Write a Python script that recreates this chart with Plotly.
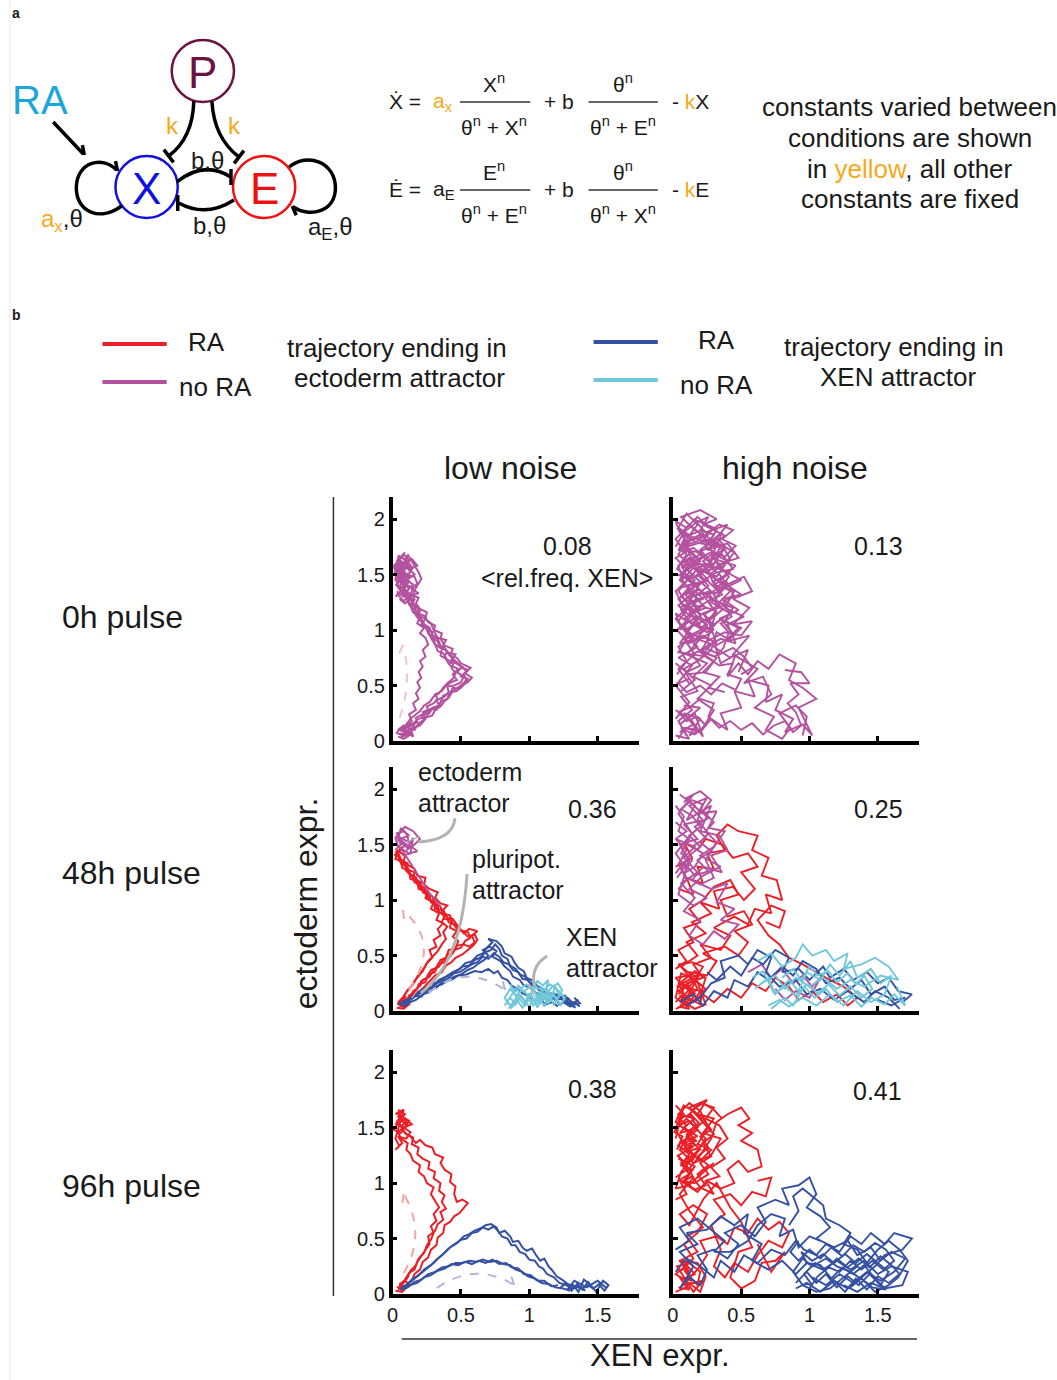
import math
import plotly.graph_objects as go

FONT = "Liberation Sans, Arial, Helvetica, sans-serif"
W, H = 1057, 1380
TXT = "#1a1a1a"
RED = "#ec1f26"; MAG = "#b4529f"; BLUE = "#3551a3"; CYAN = "#70c8da"
ORANGE = "#f6a91b"; RA_CYAN = "#1ba7dc"; MAROON = "#6b1241"; GRAY = "#b3b3b3"

# ---------------- data (x = XEN expr., y = ectoderm expr.) ----------------
X_TICKS = [0, 0.5, 1, 1.5]
X_LABELS = ["0", "0.5", "1", "1.5"]
Y_TICKS = [0, 0.5, 1, 1.5, 2]
Y_LABELS = ["0", "0.5", "1", "1.5", "2"]
ROW_LABELS = ["0h pulse", "48h pulse", "96h pulse"]
COL_LABELS = ["low noise", "high noise"]
REL_FREQ_XEN = [["0.08", "0.13"], ["0.36", "0.25"], ["0.38", "0.41"]]

# 0h pulse, low noise
LOW0_NORA_ECTO = [
    [(.06,.04),(.10,.08),(.09,.12),(.14,.14),(.18,.17),(.17,.21),(.22,.24),(.26,.27),(.25,.31),(.30,.34),(.33,.38),(.31,.42),(.36,.45),(.39,.50),(.43,.53),(.47,.55),(.44,.60),(.48,.65),(.42,.68),(.39,.74),(.35,.77),(.36,.83),(.31,.87),(.28,.93),(.29,.98),(.24,1.02),(.22,1.08),(.19,1.12),(.20,1.18),(.15,1.22),(.13,1.28),(.10,1.33),(.12,1.38),(.07,1.42),(.05,1.48),(.09,1.52),(.04,1.56),(.08,1.61),(.03,1.52),(.06,1.45),(.11,1.50),(.02,1.40)],
    [(.05,.07),(.09,.05),(.12,.11),(.16,.10),(.19,.16),(.23,.19),(.21,.23),(.27,.25),(.29,.30),(.34,.32),(.32,.37),(.38,.40),(.41,.44),(.40,.49),(.45,.50),(.50,.53),(.52,.58),(.47,.62),(.51,.67),(.45,.71),(.41,.70),(.38,.76),(.40,.81),(.34,.85),(.33,.90),(.27,.95),(.26,1.01),(.21,1.05),(.24,1.10),(.17,1.15),(.16,1.21),(.11,1.25),(.14,1.31),(.08,1.36),(.10,1.42),(.05,1.45),(.08,1.50),(.13,1.47),(.06,1.55),(.10,1.60),(.03,1.63),(.07,1.56)],
    [(.08,.10),(.12,.06),(.15,.12),(.20,.14),(.24,.20),(.22,.26),(.28,.29),(.32,.28),(.35,.35),(.37,.41),(.42,.43),(.44,.48),(.49,.47),(.53,.52),(.55,.56),(.50,.58),(.54,.63),(.49,.68),(.43,.73),(.46,.78),(.40,.80),(.37,.86),(.39,.91),(.33,.93),(.30,.99),(.31,1.04),(.26,1.07),(.23,1.13),(.18,1.15),(.19,1.20),(.14,1.25),(.16,1.30),(.11,1.34),(.07,1.39),(.09,1.44),(.04,1.47),(.07,1.53),(.12,1.57),(.05,1.60),(.02,1.55),(.09,1.49),(.04,1.43)],
    [(.10,.13),(.14,.18),(.12,.24),(.17,.28),(.15,.34),(.19,.38),(.17,.43),(.20,.48),(.18,.53),(.21,.57),(.19,.62),(.22,.67),(.20,.72),(.24,.76),(.22,.82),(.26,.87),(.24,.93),(.20,.97),(.23,1.02),(.18,1.06),(.20,1.12),(.15,1.16),(.13,1.22),(.16,1.27),(.10,1.30),(.07,1.36),(.10,1.41),(.04,1.44),(.06,1.50),(.02,1.46)],
    [(.07,.08),(.11,.13),(.15,.16),(.19,.20),(.25,.22),(.27,.28),(.33,.30),(.36,.36),(.40,.38),(.42,.44),(.47,.45),(.50,.50),(.55,.53),(.58,.57),(.53,.61),(.57,.66),(.50,.70),(.47,.75),(.42,.77),(.44,.83),(.38,.86),(.35,.92),(.36,.97),(.30,1.00),(.28,1.06),(.24,1.10),(.25,1.16),(.20,1.19),(.17,1.24),(.19,1.29),(.13,1.32),(.15,1.38),(.09,1.41),(.11,1.47),(.06,1.51),(.09,1.57),(.14,1.54),(.08,1.64),(.04,1.67),(.06,1.58),(.01,1.52)],
    [(.09,.06),(.13,.09),(.17,.13),(.21,.16),(.24,.21),(.29,.23),(.31,.28),(.35,.31),(.38,.36),(.41,.39),(.44,.45),(.48,.48),(.51,.51),(.54,.55),(.52,.60),(.55,.64),(.51,.66),(.48,.70),(.44,.74),(.41,.78),(.39,.82),(.35,.86),(.33,.92),(.29,.96),(.27,1.02),(.23,1.05),(.21,1.10),(.18,1.17),(.14,1.20),(.12,1.25),(.09,1.31),(.06,1.37),(.03,1.42),(.05,1.50),(.01,1.56),(.06,1.62),(.10,1.56)],
    [(.06,.10),(.10,.15),(.13,.20),(.16,.23),(.20,.27),(.23,.32),(.27,.35),(.30,.40),(.34,.43),(.37,.48),(.40,.52),(.44,.56),(.46,.61),(.43,.66),(.45,.71),(.40,.73),(.37,.79),(.33,.81),(.31,.87),(.30,.93),(.26,.97),(.24,1.03),(.20,1.09),(.17,1.13),(.16,1.18),(.12,1.23),(.11,1.29),(.07,1.33),(.05,1.39),(.08,1.46),(.03,1.50),(.07,1.57),(.12,1.63),(.08,1.68),(.03,1.60)],
    [(.02,1.30),(.06,1.35),(.03,1.40),(.09,1.38),(.12,1.44),(.07,1.47),(.13,1.52),(.10,1.58),(.15,1.55),(.11,1.62),(.06,1.66),(.09,1.70),(.04,1.62),(.01,1.58),(.05,1.52),(.16,1.48),(.18,1.42),(.14,1.37),(.19,1.33),(.12,1.31),(.08,1.26),(.03,1.33)],
    [(.03,1.35),(.08,1.30),(.11,1.36),(.15,1.41),(.10,1.45),(.16,1.50),(.12,1.55),(.18,1.58),(.14,1.64),(.08,1.58),(.04,1.65),(.02,1.45),(.07,1.42),(.13,1.48),(.06,1.53),(.11,1.68),(.15,1.60),(.19,1.52),(.21,1.46),(.17,1.38),(.14,1.30),(.09,1.24),(.05,1.28)],
    [(.04,.04),(.08,.02),(.12,.05),(.07,.09),(.11,.14),(.05,.11),(.03,.07),(.09,.05),(.14,.09),(.10,.03)],
    [(.06,.03),(.11,.07),(.15,.04),(.13,.11),(.08,.14),(.04,.10),(.10,.09),(.16,.13),(.12,.17)],
]

# 0h pulse, high noise
HIGH0_NORA_ECTO = [
    [(.05,.08),(.15,.15),(.08,.25),(.20,.20),(.12,.05),(.22,.12),(.30,.28),(.18,.38),(.28,.50),(.15,.58),(.25,.70),(.10,.78),(.20,.92),(.05,.88),(.15,1.05),(.30,1.00),(.22,1.15),(.38,1.22),(.25,1.30),(.12,1.25),(.20,1.42),(.05,1.38),(.18,1.55),(.32,1.48),(.40,1.62),(.28,1.70),(.15,1.62),(.08,1.78),(.22,1.85),(.12,1.95),(.02,1.82),(.10,1.68),(.03,1.55),(.16,1.45),(.06,1.30),(.20,1.20),(.08,1.10),(.25,.98),(.35,1.10),(.45,.95),(.30,.85),(.42,.75),(.55,.82),(.48,.62)],
    [(.10,.05),(.04,.18),(.14,.28),(.06,.40),(.18,.45),(.10,.60),(.24,.62),(.32,.75),(.20,.82),(.35,.92),(.46,.88),(.40,1.05),(.52,1.12),(.38,1.20),(.45,1.35),(.30,1.40),(.42,1.52),(.26,1.58),(.35,1.75),(.20,1.78),(.30,1.92),(.15,2.00),(.24,1.88),(.40,1.95),(.30,1.80),(.45,1.70),(.35,1.55),(.50,1.45),(.38,1.38),(.28,1.25),(.42,1.15),(.30,1.05),(.18,1.12),(.10,.98),(.02,1.10),(.12,1.22),(.04,1.35),(.14,1.50),(.02,1.65),(.12,1.72),(.05,1.90),(.16,1.80)],
    [(.08,.12),(.20,.08),(.28,.20),(.40,.10),(.35,.25),(.50,.30),(.45,.45),(.60,.40),(.55,.55),(.70,.50),(.68,.35),(.80,.42),(.75,.28),(.88,.20),(.82,.08),(.95,.15),(1.02,.05),(.92,.30),(1.05,.38),(.95,.48),(.85,.55),(.90,.70),(.78,.78),(.70,.65),(.62,.72),(.55,.60),(.48,.70),(.40,.58),(.46,.78),(.35,.70),(.30,.90),(.22,.78),(.15,.88),(.25,1.05),(.12,1.15),(.28,1.28),(.18,1.38),(.08,1.48)],
    [(.02,.20),(.12,.35),(.02,.50),(.14,.68),(.04,.75),(.18,.85),(.08,1.00),(.22,1.08),(.12,1.30),(.28,1.35),(.16,1.48),(.30,1.60),(.08,1.58),(.22,1.70),(.04,1.72),(.18,1.95),(.10,2.05),(.04,1.92),(.14,1.84),(.26,1.78),(.36,1.88),(.28,1.65),(.46,1.58),(.34,1.45),(.50,1.32),(.36,1.28),(.48,1.18),(.34,1.10),(.50,1.02),(.40,.90),(.56,.95),(.44,.78),(.62,.65),(.52,.52),(.66,.58),(.72,.42),(.60,.30),(.74,.22),(.68,.10),(.80,.02),(.86,.12),(.78,.25),(.90,.32),(.98,.22),(.95,.05)],
    [(.02,.05),(.12,.02),(.06,.12),(.18,.10),(.10,.22),(.02,.28),(.14,.18),(.22,.04),(.16,.25),(.05,.15),(.20,.30),(.08,.32)],
    [(.05,1.20),(.18,1.28),(.10,1.40),(.26,1.45),(.14,1.60),(.06,1.50),(.20,1.62),(.10,1.75),(.28,1.82),(.16,1.90),(.06,2.02),(.20,2.08),(.32,2.00),(.22,1.95),(.38,1.85),(.25,1.72),(.40,1.78),(.48,1.65),(.36,1.60),(.24,1.52),(.38,1.40),(.52,1.48),(.58,1.35),(.44,1.28),(.56,1.20),(.44,1.05),(.58,1.08),(.50,.95),(.38,.98),(.25,.90),(.32,1.18),(.20,1.00),(.08,.92),(.16,.78),(.04,.65),(.12,.52)],
    [(.03,.60),(.10,.72),(.04,.85),(.14,.92),(.08,1.05),(.18,1.12),(.10,1.22),(.22,1.28),(.14,1.38),(.24,1.44),(.16,1.55),(.28,1.60),(.18,1.70),(.30,1.76),(.20,1.86),(.10,1.80),(.04,1.68),(.12,1.60),(.05,1.45),(.15,1.34),(.04,1.22),(.13,1.12),(.03,1.00),(.12,.88),(.22,.95),(.32,.88),(.26,1.08),(.36,1.18),(.30,1.32),(.40,1.40),(.33,1.52),(.44,1.55),(.36,1.68),(.26,1.62)],
    [(.02,1.75),(.08,1.88),(.16,1.96),(.26,2.02),(.20,1.90),(.30,1.86),(.24,1.74),(.34,1.68),(.28,1.55),(.18,1.50),(.26,1.40),(.16,1.30),(.24,1.20),(.14,1.15),(.06,1.25),(.02,1.35),(.08,1.42),(.04,1.58),(.12,1.65),(.22,1.58),(.32,1.45),(.42,1.35),(.34,1.25),(.44,1.20),(.38,1.08),(.48,1.02),(.40,.92),(.32,.98),(.28,.82),(.18,.72),(.08,.65),(.16,.55),(.06,.45)],
    [(.05,1.00),(.12,1.08),(.06,1.18),(.16,1.22),(.09,1.32),(.19,1.36),(.11,1.46),(.21,1.50),(.13,1.58),(.23,1.66),(.15,1.74),(.07,1.70),(.13,1.82),(.05,1.88),(.02,1.98),(.10,1.92),(.18,2.02),(.24,1.95),(.32,1.90),(.27,1.80),(.37,1.72),(.31,1.62),(.41,1.48),(.35,1.38),(.26,1.33),(.33,1.22),(.23,1.14),(.30,1.04),(.20,.98),(.10,.92),(.04,.80),(.14,.78),(.24,.84),(.34,.78),(.44,.84),(.52,.76),(.58,.66),(.50,.60)],
    [(.02,1.50),(.10,1.48),(.06,1.60),(.16,1.66),(.08,1.76),(.18,1.80),(.26,1.88),(.34,1.95),(.44,1.90),(.36,1.82),(.46,1.76),(.38,1.66),(.30,1.70),(.22,1.62),(.32,1.52),(.24,1.46),(.34,1.34),(.22,1.32),(.30,1.18),(.20,1.22),(.12,1.15),(.20,1.05),(.10,1.08),(.02,1.15),(.06,1.02),(.16,.95),(.26,.92),(.20,.80),(.30,.72),(.22,.62),(.34,.58),(.26,.48),(.38,.44)],
    [(.04,.02),(.08,.10),(.16,.06),(.24,.14),(.18,.22),(.10,.18),(.04,.26),(.12,.30),(.20,.38),(.30,.34),(.26,.22),(.34,.12),(.42,.18),(.50,.10),(.58,.16),(.66,.06),(.74,.14),(.82,.18),(.88,.08),(.94,.14),(.90,.26),(.84,.34),(.92,.42),(.86,.52),(1.00,.52),(.94,.62),(.82,.64)],
    [(.03,1.92),(.09,1.84),(.05,1.74),(.13,1.70),(.07,1.62),(.15,1.56),(.09,1.48),(.17,1.42),(.11,1.34),(.19,1.28),(.13,1.20),(.21,1.14),(.15,1.06),(.23,1.00),(.17,.92),(.27,.88),(.21,.80),(.31,.76),(.37,.84),(.41,.98),(.35,1.06),(.43,1.12),(.37,1.26),(.45,1.30),(.39,1.44),(.31,1.38),(.27,1.50),(.35,1.58),(.29,1.66),(.39,1.74),(.33,1.82),(.25,1.78),(.21,1.90),(.13,1.86)],
    [(.06,1.56),(.14,1.62),(.22,1.54),(.28,1.62),(.20,1.72),(.28,1.80),(.36,1.76),(.42,1.64),(.34,1.58),(.40,1.50),(.30,1.44),(.36,1.32),(.26,1.26),(.32,1.14),(.22,1.08),(.28,.98),(.18,.90),(.10,.98),(.04,1.08),(.10,1.18),(.04,1.28),(.12,1.36),(.06,1.46),(.16,1.50)],
    [(.02,.70),(.10,.62),(.20,.68),(.14,.78),(.24,.76),(.34,.68),(.44,.70),(.40,.60),(.50,.56),(.46,.46),(.36,.52),(.28,.42),(.20,.50),(.10,.44),(.04,.52),(.12,.56)],
]

# 48h pulse, low noise
LOW48_RA_ECTO = [
    [(.05,.05),(.09,.10),(.13,.12),(.15,.18),(.20,.22),(.22,.28),(.27,.31),(.30,.37),(.34,.40),(.37,.46),(.42,.49),(.45,.55),(.50,.57),(.53,.63),(.57,.66),(.55,.71),(.49,.73),(.46,.78),(.41,.80),(.39,.86),(.34,.89),(.33,.95),(.28,.98),(.27,1.04),(.22,1.07),(.21,1.13),(.16,1.16),(.14,1.22),(.10,1.26),(.09,1.32),(.05,1.35),(.04,1.41),(.02,1.38)],
    [(.07,.03),(.10,.07),(.12,.14),(.17,.17),(.19,.24),(.24,.26),(.26,.33),(.31,.35),(.33,.42),(.38,.44),(.40,.51),(.44,.52),(.47,.59),(.52,.60),(.56,.58),(.60,.62),(.58,.68),(.62,.72),(.56,.74),(.52,.70),(.48,.76),(.44,.83),(.40,.84),(.37,.91),(.31,.92),(.30,.99),(.25,1.01),(.24,1.08),(.19,1.10),(.18,1.17),(.13,1.19),(.12,1.26),(.07,1.29),(.06,1.35),(.02,1.37),(.04,1.43),(.01,1.40)],
    [(.04,.08),(.08,.13),(.11,.19),(.15,.24),(.18,.31),(.22,.36),(.25,.43),(.29,.48),(.27,.55),(.32,.58),(.30,.64),(.35,.68),(.33,.74),(.37,.79),(.32,.82),(.34,.88),(.28,.92),(.30,.98),(.24,1.02),(.26,1.07),(.20,1.10),(.21,1.16),(.15,1.19),(.16,1.25),(.10,1.28),(.11,1.33),(.06,1.36),(.03,1.42),(.06,1.45)],
    [(.06,.06),(.11,.09),(.14,.16),(.18,.20),(.21,.27),(.25,.30),(.28,.37),(.32,.39),(.35,.46),(.39,.48),(.41,.55),(.46,.56),(.48,.63),(.44,.67),(.47,.72),(.42,.75),(.43,.82),(.38,.83),(.36,.90),(.40,.95),(.35,.97),(.31,1.02),(.33,1.07),(.27,1.10),(.23,1.14),(.24,1.20),(.18,1.22),(.16,1.28),(.12,1.31),(.08,1.34),(.09,1.40),(.04,1.44),(.07,1.48)],
    [(.05,.04),(.10,.06),(.13,.11),(.16,.15),(.21,.19),(.24,.23),(.28,.28),(.31,.32),(.36,.35),(.39,.41),(.43,.44),(.46,.48),(.51,.51),(.55,.55),(.59,.59),(.62,.64),(.60,.69),(.55,.67),(.51,.72),(.47,.74),(.44,.79),(.42,.86),(.37,.88),(.35,.94),(.31,.97),(.29,1.03),(.25,1.06),(.23,1.11),(.20,1.14),(.17,1.20),(.13,1.23),(.11,1.29),(.08,1.33),(.05,1.39),(.03,1.45)],
    [(.04,.05),(.07,.11),(.10,.17),(.13,.21),(.16,.27),(.20,.33),(.23,.39),(.26,.45),(.30,.50),(.33,.54),(.36,.60),(.39,.65),(.37,.71),(.40,.76),(.36,.80),(.38,.86),(.33,.90),(.31,.96),(.27,1.00),(.25,1.05),(.22,1.10),(.18,1.14),(.17,1.20),(.12,1.24),(.10,1.30),(.06,1.33),(.05,1.40),(.02,1.44)],
    [(.03,.03),(.08,.02),(.12,.06),(.06,.10),(.10,.13),(.04,.07),(.09,.04)],
]
LOW48_NORA_ECTO = [
    [(.35,.94),(.32,.98),(.30,1.02),(.27,1.06),(.24,1.12),(.22,1.16),(.19,1.22),(.17,1.26),(.14,1.31),(.12,1.36),(.09,1.41),(.06,1.46),(.10,1.50),(.05,1.55),(.12,1.58),(.08,1.62),(.03,1.60),(.07,1.52),(.14,1.48),(.18,1.44),(.12,1.42),(.04,1.48),(.02,1.56),(.09,1.66),(.15,1.62),(.20,1.55),(.16,1.50),(.10,1.45)],
    [(.02,1.45),(.06,1.50),(.03,1.58),(.08,1.55),(.12,1.52),(.10,1.60),(.06,1.65),(.04,1.54),(.11,1.47),(.15,1.56),(.13,1.42),(.07,1.40)],
]
LOW48_RA_XEN = [
    [(.06,.05),(.10,.09),(.15,.12),(.19,.17),(.24,.19),(.28,.24),(.33,.26),(.38,.30),(.42,.33),(.47,.36),(.51,.40),(.56,.41),(.60,.46),(.64,.48),(.68,.53),(.72,.55),(.75,.60),(.78,.56),(.80,.50),(.84,.47),(.86,.41),(.90,.38),(.93,.33),(.97,.31),(1.00,.26),(1.04,.24),(1.07,.19),(1.12,.17),(1.16,.13),(1.20,.15),(1.24,.10),(1.28,.12),(1.32,.07),(1.36,.10),(1.30,.04),(1.25,.08),(1.34,.03)],
    [(.08,.04),(.13,.08),(.17,.10),(.22,.15),(.27,.17),(.31,.22),(.36,.24),(.41,.28),(.45,.31),(.50,.33),(.55,.37),(.59,.39),(.63,.43),(.67,.46),(.70,.50),(.66,.55),(.71,.58),(.76,.54),(.73,.49),(.79,.45),(.82,.40),(.86,.36),(.88,.31),(.93,.28),(.96,.23),(1.01,.21),(1.05,.16),(1.10,.14),(1.14,.10),(1.19,.12),(1.22,.06),(1.27,.09),(1.31,.05),(1.37,.07),(1.33,.12)],
    [(.05,.07),(.11,.07),(.16,.14),(.21,.13),(.26,.20),(.32,.21),(.37,.27),(.43,.28),(.48,.32),(.54,.33),(.60,.36),(.65,.35),(.70,.38),(.74,.34),(.77,.36),(.80,.30),(.84,.28),(.87,.23),(.91,.20),(.95,.16),(.99,.14),(1.03,.10),(1.08,.11),(1.12,.06),(1.17,.08),(1.21,.04)],
    [(.07,.08),(.12,.11),(.18,.15),(.22,.20),(.29,.22),(.34,.28),(.39,.31),(.44,.35),(.49,.38),(.53,.43),(.58,.45),(.62,.50),(.66,.52),(.69,.57),(.73,.62),(.70,.65),(.76,.63),(.80,.58),(.82,.52),(.87,.49),(.89,.44),(.92,.39),(.96,.36),(.98,.30),(1.03,.27),(1.06,.22),(1.10,.20),(1.13,.15),(1.18,.16),(1.22,.12),(1.26,.14),(1.29,.08),(1.35,.06)],
    [(.04,.06),(.09,.09),(.14,.11),(.20,.16),(.25,.18),(.30,.23),(.35,.27),(.40,.29),(.45,.34),(.49,.35),(.54,.39),(.58,.42),(.62,.44),(.66,.49),(.70,.47),(.74,.52),(.78,.49),(.81,.44),(.85,.42),(.88,.37),(.92,.35),(.95,.29),(.99,.28),(1.02,.23),(1.07,.22),(1.11,.17),(1.15,.16),(1.19,.10),(1.24,.11),(1.28,.06),(1.33,.08),(1.37,.04)],
]
LOW48_NORA_XEN = [
    [(.82,.05),(.86,.12),(.90,.06),(.94,.14),(.97,.08),(1.00,.16),(1.04,.09),(1.07,.18),(1.10,.10),(1.13,.20),(1.16,.12),(1.19,.22),(1.22,.14),(1.18,.06),(1.14,.15),(1.11,.04),(1.07,.13),(1.03,.05),(.99,.12),(.95,.03),(.91,.10),(.87,.03),(.84,.09),(.88,.16),(.93,.20),(.98,.24),(1.02,.20),(1.06,.27),(1.10,.23),(1.14,.28),(1.12,.18),(1.08,.22)],
    [(.85,.02),(.89,.09),(.92,.15),(.96,.10),(1.00,.04),(1.03,.11),(1.06,.03),(1.09,.15),(1.13,.08),(1.17,.17),(1.20,.09),(1.24,.19),(1.21,.25),(1.16,.21),(1.12,.13),(1.08,.07),(1.04,.17),(1.00,.22),(.96,.17),(.92,.23),(.89,.18),(.86,.24)],
    [(.88,.04),(.92,.12),(.97,.05),(1.01,.14),(1.05,.06),(1.09,.17),(1.14,.07),(1.18,.15),(1.23,.05),(1.26,.12),(1.20,.20),(1.15,.24),(1.10,.18),(1.05,.22),(1.00,.13),(.95,.19),(.90,.14),(.86,.20),(.82,.12),(.85,.06)],
]

# 48h pulse, high noise
HIGH48_RA_ECTO = [
    [(.05,.05),(.15,.12),(.10,.25),(.22,.30),(.15,.42),(.28,.48),(.20,.60),(.35,.55),(.42,.68),(.30,.75),(.45,.85),(.55,.78),(.60,.92),(.72,.88),(.68,1.05),(.80,1.00),(.76,1.18),(.65,1.22),(.70,1.38),(.58,1.45),(.62,1.58),(.48,1.62),(.40,1.68),(.32,1.58),(.38,1.45),(.25,1.42),(.30,1.28),(.18,1.30),(.22,1.15),(.10,1.20),(.15,1.05),(.04,1.10)],
    [(.08,.10),(.18,.20),(.12,.35),(.25,.32),(.32,.45),(.22,.52),(.38,.58),(.48,.50),(.55,.62),(.45,.72),(.58,.78),(.52,.90),(.40,.85),(.35,1.00),(.48,1.05),(.42,1.18),(.30,1.12),(.22,1.00),(.12,.92),(.20,.80),(.08,.75),(.15,.62),(.04,.55),(.10,.45),(.02,.38)],
    [(.04,.15),(.14,.28),(.06,.40),(.18,.50),(.10,.62),(.24,.70),(.14,.80),(.28,.88),(.20,.98),(.34,.92),(.30,1.08),(.44,1.12),(.52,1.00),(.60,1.10),(.50,1.25),(.62,1.30),(.55,1.42),(.44,1.38),(.36,1.50),(.24,1.55),(.18,1.45),(.08,1.52),(.14,1.38),(.02,1.30)],
    [(.10,.05),(.22,.15),(.30,.08),(.40,.20),(.50,.12),(.58,.25),(.68,.18),(.75,.30),(.85,.22),(.92,.10),(1.02,.18),(1.10,.08),(1.20,.15),(1.28,.05),(1.35,.12),(1.25,.22),(1.15,.28),(1.05,.35),(.95,.42),(.85,.48),(.78,.60),(.70,.68),(.62,.82),(.72,.95),(.82,.90),(.78,.75),(.68,.80)],
    [(.02,.02),(.10,.06),(.05,.14),(.15,.08),(.20,.18),(.08,.22),(.02,.30),(.12,.32),(.18,.26),(.24,.06),(.16,.02),(.06,.10),(.12,.20),(.03,.22),(.20,.34),(.10,.12)],
    [(.04,.04),(.12,.02),(.08,.12),(.16,.16),(.10,.24),(.04,.18),(.14,.10),(.20,.06),(.22,.22),(.14,.30),(.06,.34),(.02,.12),(.10,.04),(.18,.12),(.12,.18),(.06,.26),(.16,.36),(.24,.30),(.20,.14)],
    [(.02,.08),(.08,.16),(.04,.26),(.12,.22),(.18,.30),(.10,.36),(.04,.42),(.14,.44),(.22,.40),(.16,.28),(.24,.20),(.18,.10),(.08,.06)],
]
HIGH48_NORA_ECTO = [
    [(.03,1.20),(.12,1.35),(.05,1.50),(.18,1.55),(.08,1.68),(.22,1.72),(.12,1.85),(.25,1.92),(.18,1.78),(.32,1.80),(.26,1.65),(.38,1.62),(.30,1.48),(.20,1.40),(.35,1.30),(.22,1.22),(.12,1.10),(.25,1.02),(.15,.95),(.04,1.05),(.10,1.28),(.02,1.42),(.14,1.60),(.04,1.78),(.15,1.95),(.08,1.88)],
    [(.05,1.95),(.16,1.85),(.10,1.72),(.28,1.85),(.20,1.62),(.34,1.58),(.40,1.45),(.28,1.40),(.36,1.25),(.22,1.30),(.14,1.18),(.28,1.10),(.40,1.15),(.32,.98),(.45,.92),(.35,.82),(.48,.78),(.38,.65),(.30,.72),(.22,.60),(.12,.68),(.20,.82),(.08,.90),(.16,1.02),(.06,1.15),(.18,1.25),(.08,1.38),(.16,1.48),(.02,1.55),(.10,1.62),(.02,1.70)],
    [(.02,1.85),(.08,1.75),(.04,1.62),(.12,1.55),(.06,1.42),(.14,1.36),(.08,1.24),(.16,1.30),(.22,1.42),(.14,1.48),(.24,1.56),(.16,1.66),(.26,1.74),(.18,1.82),(.10,1.92),(.20,1.98),(.28,1.90),(.22,1.80),(.30,1.70),(.24,1.62),(.32,1.52),(.24,1.36),(.30,1.20),(.20,1.14),(.10,1.20),(.04,1.32),(.10,1.45),(.02,1.55)],
    [(.04,1.10),(.10,1.18),(.06,1.28),(.12,1.40),(.20,1.48),(.12,1.58),(.20,1.66),(.14,1.76),(.06,1.82),(.14,1.90),(.22,1.86),(.18,1.72),(.26,1.60),(.20,1.52),(.28,1.44),(.18,1.36),(.26,1.26),(.16,1.22),(.08,1.34),(.02,1.24)],
    [(.55,.35),(.65,.42),(.72,.30),(.80,.38),(.88,.25),(.95,.32),(1.02,.22),(1.08,.30),(1.00,.12),(.90,.18),(.82,.10),(.75,.20)],
]
HIGH48_RA_XEN = [
    [(.05,.08),(.15,.15),(.22,.05),(.30,.18),(.40,.12),(.45,.28),(.55,.22),(.62,.35),(.70,.28),(.80,.40),(.88,.32),(.95,.45),(1.05,.38),(1.12,.25),(1.22,.30),(1.30,.20),(1.38,.28),(1.45,.15),(1.55,.22),(1.62,.10),(1.70,.12),(1.60,.05),(1.50,.10)],
    [(.10,.05),(.20,.12),(.28,.25),(.38,.30),(.35,.45),(.48,.50),(.55,.42),(.62,.55),(.72,.48),(.68,.35),(.78,.22),(.90,.28),(.98,.15),(1.08,.20),(1.18,.10),(1.28,.18),(1.40,.08),(1.48,.18),(1.58,.12),(1.66,.02)],
    [(.25,.35),(.32,.28),(.42,.40),(.50,.32),(.58,.48),(.66,.42),(.75,.55),(.85,.48),(.80,.35),(.92,.38),(1.00,.28),(1.10,.40),(1.15,.30),(1.25,.38),(1.32,.28),(1.42,.35),(1.50,.25),(1.58,.30),(1.65,.18),(1.75,.15),(1.68,.08)],
]
HIGH48_NORA_XEN = [
    [(.60,.20),(.70,.30),(.75,.15),(.85,.28),(.92,.18),(.98,.35),(1.08,.28),(1.15,.42),(1.22,.32),(1.30,.45),(1.35,.30),(1.45,.38),(1.52,.25),(1.60,.32),(1.55,.15),(1.45,.08),(1.35,.18),(1.25,.05),(1.15,.15),(1.05,.05),(.95,.12),(.85,.04),(.78,.10),(.70,.05)],
    [(.62,.45),(.72,.52),(.80,.40),(.90,.48),(.95,.60),(1.02,.50),(1.12,.55),(1.18,.45),(1.28,.52),(1.25,.38),(1.38,.42),(1.48,.48),(1.58,.40),(1.65,.28),(1.52,.32),(1.40,.22),(1.30,.28),(1.20,.20),(1.10,.30),(1.00,.22),(.90,.30),(.82,.20),(.75,.32),(.65,.25)],
    [(.72,.02),(.82,.12),(.88,.05),(.96,.22),(1.04,.12),(1.12,.20),(1.20,.08),(1.30,.14),(1.38,.04),(1.45,.12),(1.55,.06),(1.62,.15),(1.70,.05),(1.64,.22)],
    [(.80,.30),(.88,.38),(.94,.28),(1.00,.40),(1.06,.32),(1.14,.36),(1.20,.26),(1.28,.34),(1.34,.24),(1.40,.32),(1.46,.20),(1.38,.12),(1.30,.22),(1.22,.14),(1.14,.24),(1.06,.16),(.98,.24),(.90,.14),(.82,.22),(.74,.16),(.66,.36),(.58,.30)],
]

# 96h pulse, low noise
LOW96_RA_ECTO = [
    [(.04,.04),(.08,.10),(.11,.15),(.13,.21),(.17,.26),(.19,.32),(.23,.37),(.25,.44),(.28,.49),(.30,.55),(.28,.61),(.32,.66),(.30,.72),(.34,.78),(.31,.84),(.28,.90),(.30,.96),(.25,1.00),(.23,1.06),(.19,1.10),(.20,1.16),(.15,1.20),(.13,1.26),(.10,1.30),(.11,1.36),(.06,1.40),(.04,1.46),(.08,1.50),(.03,1.55),(.06,1.60),(.02,1.52)],
    [(.06,.03),(.10,.08),(.14,.12),(.16,.18),(.20,.22),(.22,.29),(.26,.33),(.28,.40),(.32,.44),(.33,.51),(.37,.55),(.38,.62),(.42,.65),(.45,.70),(.49,.73),(.52,.78),(.55,.82),(.51,.85),(.47,.83),(.45,.90),(.46,.97),(.42,1.01),(.43,1.08),(.38,1.12),(.35,1.18),(.37,1.23),(.31,1.26),(.29,1.32),(.24,1.34),(.20,1.39),(.17,1.36),(.13,1.42),(.09,1.45),(.06,1.51),(.10,1.55),(.04,1.60),(.07,1.65),(.02,1.62)],
    [(.05,.07),(.09,.13),(.12,.19),(.16,.22),(.18,.29),(.21,.34),(.24,.40),(.27,.45),(.26,.52),(.31,.57),(.33,.63),(.37,.67),(.35,.74),(.39,.77),(.36,.83),(.38,.89),(.34,.93),(.35,1.00),(.30,1.04),(.31,1.10),(.26,1.13),(.27,1.19),(.22,1.22),(.18,1.26),(.19,1.32),(.14,1.35),(.15,1.41),(.10,1.44),(.07,1.48),(.11,1.52),(.05,1.57),(.09,1.62),(.04,1.66)],
    [(.02,1.30),(.07,1.36),(.04,1.42),(.10,1.40),(.13,1.46),(.08,1.50),(.14,1.53),(.09,1.58),(.04,1.54),(.01,1.48),(.06,1.45),(.12,1.56),(.03,1.63),(.08,1.66),(.02,1.40),(.05,1.33)],
    [(.02,.03),(.07,.02),(.10,.06),(.05,.09),(.09,.12),(.13,.08),(.03,.06)],
]
LOW96_RA_XEN = [
    [(.05,.04),(.10,.08),(.14,.13),(.19,.17),(.23,.22),(.28,.26),(.32,.31),(.36,.35),(.40,.40),(.44,.44),(.48,.47),(.52,.52),(.56,.54),(.60,.57),(.64,.59),(.68,.62),(.72,.63),(.76,.60),(.78,.55),(.82,.57),(.86,.52),(.88,.47),(.92,.48),(.95,.42),(.98,.39),(1.02,.41),(1.05,.35),(1.08,.30),(1.11,.32),(1.14,.25),(1.17,.21),(1.20,.16),(1.24,.13),(1.28,.09),(1.33,.07),(1.38,.05),(1.43,.08),(1.48,.04)],
    [(.07,.06),(.12,.10),(.17,.15),(.21,.19),(.26,.24),(.30,.28),(.34,.33),(.38,.37),(.42,.42),(.46,.45),(.50,.49),(.54,.50),(.58,.55),(.62,.56),(.66,.60),(.70,.58),(.74,.61),(.77,.57),(.80,.52),(.84,.50),(.87,.44),(.90,.44),(.93,.38),(.97,.36),(1.00,.31),(1.04,.30),(1.07,.25),(1.10,.23),(1.13,.18),(1.18,.15),(1.22,.10),(1.27,.08),(1.31,.05),(1.36,.07),(1.41,.03)],
    [(.06,.05),(.11,.06),(.16,.11),(.21,.13),(.26,.18),(.31,.20),(.36,.24),(.41,.25),(.46,.28),(.51,.28),(.56,.30),(.61,.29),(.66,.31),(.71,.29),(.76,.30),(.81,.27),(.86,.26),(.90,.22),(.95,.20),(.99,.16),(1.04,.14),(1.09,.10),(1.14,.09),(1.19,.06),(1.25,.05),(1.30,.03)],
    [(.08,.04),(.13,.08),(.18,.10),(.23,.15),(.28,.17),(.33,.21),(.38,.23),(.43,.27),(.48,.26),(.53,.29),(.58,.27),(.63,.30),(.68,.28),(.73,.31),(.78,.27),(.83,.28),(.87,.24),(.92,.23),(.96,.18),(1.01,.17),(1.06,.12),(1.11,.12),(1.16,.07),(1.21,.08)],
    [(1.22,.05),(1.27,.10),(1.31,.03),(1.35,.09),(1.39,.04),(1.43,.11),(1.47,.05),(1.51,.09),(1.55,.03),(1.58,.08),(1.54,.12),(1.49,.02),(1.45,.08),(1.40,.13),(1.36,.02),(1.32,.08),(1.28,.04),(1.33,.12),(1.42,.06),(1.50,.12),(1.57,.05)],
]

# 96h pulse, high noise
HIGH96_RA_ECTO = [
    [(.05,.05),(.12,.18),(.05,.30),(.18,.38),(.10,.52),(.22,.60),(.12,.75),(.05,.90),(.15,1.05),(.08,1.20),(.20,1.30),(.10,1.42),(.22,1.55),(.12,1.68),(.25,1.75),(.18,1.62),(.30,1.58),(.22,1.45),(.35,1.40),(.28,1.25),(.15,1.18),(.05,1.30),(.12,1.45),(.02,1.55),(.08,1.70),(.02,1.40)],
    [(.10,1.10),(.20,1.25),(.28,1.40),(.32,1.55),(.40,1.62),(.50,1.68),(.56,1.58),(.48,1.52),(.58,1.45),(.50,1.38),(.62,1.30),(.65,1.15),(.55,1.10),(.48,1.20),(.40,1.12),(.45,1.00),(.35,.95),(.25,1.02),(.18,.92),(.08,1.00),(.16,1.15),(.04,1.22)],
    [(.08,.10),(.18,.22),(.25,.35),(.20,.48),(.32,.52),(.40,.45),(.45,.60),(.55,.55),(.62,.68),(.70,.58),(.78,.65),(.85,.55),(.80,.42),(.70,.48),(.62,.35),(.55,.20),(.45,.28),(.38,.15),(.30,.25),(.35,.40),(.28,.62),(.38,.72),(.30,.85),(.42,.90),(.50,.80),(.58,.92),(.68,.88),(.72,1.05),(.62,1.02)],
    [(.05,.20),(.15,.32),(.08,.45),(.18,.55),(.25,.72),(.15,.80),(.05,.72),(.12,.62),(.22,.85),(.32,1.00),(.42,.78),(.50,.65),(.58,.42),(.48,.38),(.42,.15),(.50,.05),(.60,.12),(.65,.28),(.75,.30),(.82,.38),(.72,.20),(.62,.45)],
    [(.02,1.05),(.10,1.12),(.04,1.25),(.14,1.32),(.06,1.38),(.18,1.42),(.08,1.50),(.16,1.58),(.04,1.62),(.12,1.72),(.20,1.65),(.26,1.50),(.18,1.35),(.28,1.30),(.20,1.20),(.10,1.30),(.02,1.48),(.10,1.58),(.24,1.40),(.14,1.22),(.06,1.10),(.02,.95),(.12,.98),(.22,1.10),(.30,1.18),(.18,1.05)],
    [(.03,1.60),(.10,1.52),(.05,1.45),(.14,1.48),(.08,1.36),(.16,1.40),(.10,1.28),(.20,1.32),(.14,1.20),(.06,1.18),(.12,1.08),(.04,1.02),(.16,1.00),(.26,1.08),(.20,1.18),(.28,1.24),(.22,1.36),(.30,1.44),(.24,1.52),(.16,1.64),(.08,1.70),(.04,1.55)],
    [(.02,.85),(.10,.90),(.06,1.00),(.14,1.06),(.20,.96),(.30,.90),(.24,1.02),(.34,1.06),(.28,1.14),(.38,1.22),(.32,1.32),(.40,1.40),(.34,1.52),(.24,1.58),(.30,1.68),(.20,1.72),(.12,1.62),(.18,1.50),(.10,1.44),(.16,1.34),(.06,1.30)],
    [(.02,1.70),(.08,1.62),(.04,1.52),(.12,1.56),(.18,1.48),(.10,1.40),(.04,1.34),(.12,1.26),(.06,1.16),(.14,1.12),(.08,1.02),(.16,.94),(.24,.98),(.18,1.08),(.26,1.16),(.18,1.24),(.26,1.32),(.20,1.42),(.28,1.48),(.22,1.58),(.14,1.66),(.22,1.72),(.30,1.66),(.36,1.58)],
    [(.03,1.25),(.09,1.18),(.15,1.26),(.09,1.34),(.17,1.38),(.11,1.46),(.19,1.54),(.13,1.62),(.05,1.58),(.01,1.46),(.07,1.42),(.03,1.30)],
    [(.02,.02),(.10,.06),(.05,.15),(.14,.12),(.08,.22),(.18,.08),(.20,.20),(.12,.28),(.03,.25),(.15,.02),(.22,.12),(.06,.08)],
    [(.04,.06),(.12,.04),(.08,.14),(.16,.18),(.10,.26),(.02,.18),(.14,.08),(.20,.02),(.24,.16),(.18,.28),(.06,.30),(.12,.20)],
]
HIGH96_RA_XEN = [
    [(.05,.05),(.12,.15),(.20,.08),(.25,.22),(.18,.35),(.30,.40),(.40,.32),(.48,.45),(.38,.55),(.50,.62),(.60,.52),(.68,.65),(.62,.78),(.75,.85),(.85,.80),(.80,.95),(.92,.98),(1.00,1.05),(1.05,.90),(.98,.78),(1.08,.70),(1.15,.60),(1.05,.50),(1.18,.42),(1.28,.48),(1.35,.35),(1.45,.42),(1.52,.30),(1.60,.38),(1.70,.32),(1.62,.20),(1.52,.12),(1.42,.20),(1.32,.10),(1.22,.18),(1.12,.08),(1.02,.15)],
    [(.08,.10),(.15,.25),(.05,.38),(.18,.45),(.10,.55),(.25,.58),(.35,.70),(.45,.62),(.55,.72),(.52,.55),(.65,.45),(.58,.30),(.70,.22),(.80,.30),(.90,.18),(.98,.28),(1.10,.22),(1.20,.30),(1.30,.22),(1.40,.30),(1.50,.18),(1.60,.25),(1.72,.20),(1.68,.08),(1.55,.05),(1.45,.10),(1.35,.02),(1.25,.08)],
    [(.02,.20),(.10,.32),(.20,.25),(.30,.15),(.35,.30),(.45,.20),(.52,.35),(.62,.28),(.72,.40),(.82,.35),(.90,.48),(.96,.40),(1.05,.35),(1.12,.45),(1.22,.38),(1.30,.52),(1.38,.45),(1.45,.55),(1.55,.45),(1.62,.55),(1.75,.50),(1.68,.40),(1.55,.35),(1.48,.25),(1.38,.15),(1.28,.05),(1.18,.12),(1.08,.02),(.98,.10),(.90,.05)],
    [(.85,.62),(.92,.75),(.88,.88),(.95,.95),(1.02,.88),(1.10,.80),(1.12,.68),(1.22,.62),(1.30,.55),(1.25,.45),(1.35,.40),(1.42,.28),(1.50,.40),(1.58,.48),(1.66,.40),(1.72,.30),(1.65,.15),(1.58,.08),(1.48,.02),(1.40,.12),(1.30,.20),(1.20,.25),(1.12,.32),(1.02,.25),(.95,.32),(.88,.20),(.95,.08),(1.05,.02),(1.15,.05),(1.25,.15),(1.35,.25)],
    [(.02,.40),(.12,.48),(.05,.60),(.18,.68),(.28,.58),(.38,.48),(.30,.38),(.42,.38),(.55,.48),(.62,.62),(.72,.72),(.82,.68),(.78,.52),(.88,.58),(.92,.42),(1.00,.52),(1.08,.48)],
    [(.90,.10),(.98,.20),(1.05,.10),(1.12,.18),(1.20,.06),(1.28,.16),(1.36,.08),(1.44,.18),(1.52,.08),(1.58,.20),(1.50,.28),(1.42,.36),(1.34,.28),(1.26,.36),(1.18,.28),(1.10,.36),(1.02,.30),(.94,.38),(.98,.28),(1.08,.26),(1.16,.14),(1.24,.24),(1.32,.18),(1.40,.26),(1.48,.14),(1.56,.04),(1.46,.06),(1.38,.14),(1.30,.06)],
    [(1.00,.05),(1.06,.16),(1.14,.24),(1.22,.20),(1.30,.30),(1.38,.22),(1.46,.30),(1.54,.22),(1.62,.30),(1.56,.40),(1.48,.46),(1.40,.38),(1.32,.44),(1.24,.34),(1.16,.42),(1.08,.32),(1.00,.40),(.92,.30),(.86,.38),(.92,.48)],
    [(1.10,.04),(1.18,.12),(1.26,.02),(1.34,.14),(1.42,.04),(1.50,.16),(1.58,.10),(1.66,.18),(1.60,.26),(1.52,.34),(1.44,.24),(1.36,.32),(1.28,.24),(1.20,.32),(1.12,.22),(1.04,.28),(.96,.18),(1.02,.08)],
]

# (row, col) -> list of (trajectories, colour) in drawing order
PANELS = {
    (0, 0): [(LOW0_NORA_ECTO, MAG)],
    (0, 1): [(HIGH0_NORA_ECTO, MAG)],
    (1, 0): [(LOW48_RA_ECTO, RED), (LOW48_NORA_ECTO, MAG), (LOW48_RA_XEN, BLUE), (LOW48_NORA_XEN, CYAN)],
    (1, 1): [(HIGH48_RA_ECTO, RED), (HIGH48_NORA_ECTO, MAG), (HIGH48_RA_XEN, BLUE), (HIGH48_NORA_XEN, CYAN)],
    (2, 0): [(LOW96_RA_ECTO, RED), (LOW96_RA_XEN, BLUE)],
    (2, 1): [(HIGH96_RA_ECTO, RED), (HIGH96_RA_XEN, BLUE)],
}

# ---------------- helpers (reference pixel -> paper, with small render compensation) ----------------
SX, OX, SY = 0.99, 6.0, 0.992
def px(x): return ((x - OX) / SX) / W
def py(y): return 1 - (y / SY) / H

annotations, shapes = [], []

def ann(text, x, y, size, color=TXT, xanchor="center", **kw):
    annotations.append(dict(text=text, x=px(x), y=py(y), xref="paper", yref="paper",
                            showarrow=False, xanchor=xanchor, yanchor="middle", borderpad=0,
                            font=dict(family=FONT, size=size, color=color), **kw))

def line(x0, y0, x1, y1, color, width, dash=None):
    shapes.append(dict(type="line", xref="paper", yref="paper", x0=px(x0), y0=py(y0),
                       x1=px(x1), y1=py(y1), line=dict(color=color, width=width, dash=dash)))

def pth(pts_cmds, color, width, dash=None, fill=None):
    s = ""
    for c, pts in pts_cmds:
        s += c + " " + " ".join(f"{px(a):.5f},{py(b):.5f}" for a, b in pts) + " "
    if fill:
        s += "Z"
    d = dict(type="path", xref="paper", yref="paper", path=s,
             line=dict(color=color, width=width, dash=dash))
    if fill:
        d["fillcolor"] = fill
    shapes.append(d)

def circle(cx, cy, r, color, width):
    shapes.append(dict(type="circle", xref="paper", yref="paper", x0=px(cx - r), x1=px(cx + r),
                       y0=py(cy + r), y1=py(cy - r), line=dict(color=color, width=width)))

def unit(d):
    n = math.hypot(*d); return d[0] / n, d[1] / n

def vhead(tip, d, color, width, L=10, ang=32):
    ux, uy = unit(d); pts = []
    for s in (1, -1):
        a = math.radians(ang * s)
        vx, vy = -ux, -uy
        pts.append((tip[0] + L * (vx * math.cos(a) - vy * math.sin(a)),
                    tip[1] + L * (vx * math.sin(a) + vy * math.cos(a))))
    pth([("M", [pts[0]]), ("L", [tip, pts[1]])], color, width)

def trihead(tip, d, color, L=13, wd=11):
    ux, uy = unit(d); bx, by = tip[0] - ux * L, tip[1] - uy * L
    w1 = (bx - uy * wd / 2, by + ux * wd / 2); w2 = (bx + uy * wd / 2, by - ux * wd / 2)
    pth([("M", [tip]), ("L", [w1, w2])], color, 1, fill=color)

def bar(end, d, color, width, half=8):
    ux, uy = unit(d)
    line(end[0] - uy * half, end[1] + ux * half, end[0] + uy * half, end[1] - ux * half, color, width)

# ---------------- figure ----------------
fig = go.Figure()
COLS_PX = [(391, 391 + 1.8 * 136), (670, 670 + 1.8 * 136)]
ROWS_PX = [(741 - 2.2 * 111, 741), (1011 - 2.2 * 111, 1011), (1294 - 2.2 * 111, 1294)]

layout_axes = {}
for r in range(3):
    for c in range(2):
        k = r * 2 + c + 1
        sx = "" if k == 1 else str(k)
        layout_axes["xaxis" + sx] = dict(
            domain=[px(COLS_PX[c][0]), px(COLS_PX[c][1])], range=[0, 1.8], anchor="y" + sx,
            showline=True, linecolor="black", linewidth=3.5, ticks="inside", ticklen=5,
            tickwidth=3, tickcolor="black", tickvals=X_TICKS, ticktext=X_LABELS,
            showticklabels=(r == 2), showgrid=False, zeroline=False, fixedrange=True,
            tickfont=dict(family=FONT, size=20, color=TXT))
        layout_axes["yaxis" + sx] = dict(
            domain=[py(ROWS_PX[r][1]), py(ROWS_PX[r][0])], range=[0, 2.2], anchor="x" + sx,
            showline=True, linecolor="black", linewidth=3.5, ticks="inside", ticklen=5,
            tickwidth=3, tickcolor="black", tickvals=Y_TICKS, ticktext=Y_LABELS,
            showticklabels=(c == 0), showgrid=False, zeroline=False, fixedrange=True,
            tickfont=dict(family=FONT, size=20, color=TXT))
        lw = 2.0 if c == 0 else 1.9
        for trajs, color in PANELS[(r, c)]:
            xs, ys = [], []
            for t in trajs:
                xs += [p[0] for p in t] + [None]
                ys += [p[1] for p in t] + [None]
            fig.add_trace(go.Scatter(x=xs, y=ys, mode="lines", xaxis="x" + sx, yaxis="y" + sx,
                                     line=dict(color=color, width=lw), hoverinfo="skip",
                                     showlegend=False))

# ---- panel a: network diagram ----
ann("<b>a</b>", 11, 13, 14, xanchor="left")
ann("RA", 40, 100, 40, color=RA_CYAN)
circle(202, 71, 31, MAROON, 2.5); ann("P", 202, 72, 44, color=MAROON)
circle(146, 187, 31, "#1010e0", 2.5); ann("X", 146, 188, 44, color="#1010e0")
circle(263, 187, 31, "#ee1111", 2.5); ann("E", 263, 188, 44, color="#ee1111")
BK = "black"; LW = 3.5
line(53, 122, 83, 154, BK, LW); vhead((84, 155), (31, 33), BK, LW)
pth([("M", [(121, 206)]), ("C", [(100, 222), (76, 212), (76, 188)]), ("C", [(76, 162), (102, 155), (116, 170)])], BK, LW)
vhead((117, 171), (14, 15), BK, LW)
pth([("M", [(288, 167)]), ("C", [(306, 152), (334, 162), (334, 188)]), ("C", [(334, 212), (308, 218), (292, 207)])], BK, LW)
vhead((291, 206), (-16, -11), BK, LW)
pth([("M", [(176, 182)]), ("Q", [(203, 160), (230, 177)])], BK, LW)
line(230, 169, 230, 185, BK, LW)
pth([("M", [(233, 200)]), ("Q", [(205, 218), (178, 203)])], BK, LW)
line(177, 195, 177, 211, BK, LW)
pth([("M", [(193, 101)]), ("Q", [(192, 138), (168, 156)])], BK, LW)
bar((168, 156), (-24, 18), BK, LW)
pth([("M", [(211, 101)]), ("Q", [(213, 138), (238, 157)])], BK, LW)
bar((238, 157), (25, 19), BK, LW)
ann("k", 172, 125, 24, color=ORANGE); ann("k", 234, 125, 24, color=ORANGE)
ann("b,θ", 207, 160, 24); ann("b,θ", 209, 225, 24)
ann(f"<span style='color:{ORANGE}'>a<sub>x</sub></span>,θ", 62, 220, 24)
ann("a<sub>E</sub>,θ", 329, 228, 24)

# equations
EQ = 21
for (yl, lhs, coef, coefcol, n1, d1, n2, d2, last) in [
        (101, "Ẋ =", "a<sub>x</sub>", ORANGE, "X<sup>n</sup>", "θ<sup>n</sup> + X<sup>n</sup>",
         "θ<sup>n</sup>", "θ<sup>n</sup> + E<sup>n</sup>", "X"),
        (189, "Ė =", "a<sub>E</sub>", TXT, "E<sup>n</sup>", "θ<sup>n</sup> + E<sup>n</sup>",
         "θ<sup>n</sup>", "θ<sup>n</sup> + X<sup>n</sup>", "E")]:
    ann(lhs, 386, yl, EQ, xanchor="left")
    ann(coef, 430, yl + 1, EQ, color=coefcol, xanchor="left")
    line(458, yl + 1, 528, yl + 1, "#333", 1.3)
    ann(n1, 492, yl - 18, EQ); ann(d1, 492, yl + 25, EQ)
    ann("+ b", 557, yl, EQ)
    line(586, yl + 1, 655, yl + 1, "#333", 1.3)
    ann(n2, 620, yl - 18, EQ); ann(d2, 620, yl + 25, EQ)
    ann(f"- <span style='color:{ORANGE}'>k</span>{last}", 668, yl, EQ, xanchor="left")

for t, yy in [("constants varied between", 107), ("conditions are shown", 138),
              (f"in <span style='color:{ORANGE}'>yellow</span>, all other", 169),
              ("constants are fixed", 199)]:
    ann(t, 906, yy, 26)

# ---- panel b: legend ----
ann("<b>b</b>", 11, 315, 14, xanchor="left")
line(102, 344, 166, 344, RED, 4); ann("RA", 206, 342, 26)
line(102, 382, 166, 382, MAG, 4); ann("no RA", 215, 387, 26)
ann("trajectory ending in", 395, 348, 26); ann("ectoderm attractor", 398, 378, 26)
line(591, 342, 655, 342, BLUE, 4); ann("RA", 713, 340, 26)
line(591, 380, 655, 380, CYAN, 4); ann("no RA", 713, 385, 26)
ann("trajectory ending in", 890, 347, 26); ann("XEN attractor", 894, 377, 26)

# column / row titles
ann(COL_LABELS[0], 508, 468, 32); ann(COL_LABELS[1], 792, 468, 32)
for lab, yy in zip(ROW_LABELS, [617, 873, 1186]):
    ann(lab, 61, yy, 32, xanchor="left")
ann("ectoderm expr.", 305, 903, 32, textangle=-90)
line(332, 497, 332, 1296, "#333", 1.5)
line(400, 1339, 913, 1339, "#333", 1.5)
ann("XEN expr.", 657, 1355, 31)
line(10, 0, 10, 1380, "#eeeeee", 1)

# panel values
for (r, c), (xx, yy) in {(0, 0): (565, 546), (0, 1): (875, 546), (1, 0): (590, 809),
                         (1, 1): (875, 809), (2, 0): (590, 1089), (2, 1): (874, 1091)}.items():
    ann(REL_FREQ_XEN[r][c], xx, yy, 25)
ann("&lt;rel.freq. XEN&gt;", 565, 578, 25)

# attractor labels and grey arrows
ann("ectoderm", 415, 772, 25, xanchor="left"); ann("attractor", 415, 803, 25, xanchor="left")
ann("pluripot.", 469, 859, 25, xanchor="left"); ann("attractor", 469, 890, 25, xanchor="left")
ann("XEN", 563, 937, 25, xanchor="left"); ann("attractor", 563, 968, 25, xanchor="left")
for p0, cc, p1 in [((453, 818), (451, 840), (416, 842)),
                   ((465, 874), (460, 962), (419, 993)),
                   ((545, 956), (528, 966), (532, 986))]:
    pth([("M", [p0]), ("Q", [cc, p1])], GRAY, 3)
trihead((405, 842), (-10, 0), GRAY)
trihead((410, 998), (-10, 6), GRAY)
trihead((532, 997), (0, 10), GRAY)

# dashed guide arrows
for p0, cc, p1, col in [((398, 718), (411, 678), (401, 645), "#f2c2de"),
                        ((407, 990), (440, 944), (401, 910), "#f4a5a5"),
                        ((427, 993), (462, 962), (503, 990), "#adb7dc"),
                        ((402, 1273), (425, 1233), (402, 1194), "#f4a5a5"),
                        ((435, 1288), (473, 1261), (512, 1285), "#adb7dc")]:
    pth([("M", [p0]), ("Q", [cc, p1])], col, 2, dash="dash")
    vhead(p1, (p1[0] - cc[0], p1[1] - cc[1]), col, 2, L=9, ang=40)

fig.update_layout(width=W, height=H, margin=dict(l=0, r=0, t=0, b=0),
                  paper_bgcolor="white", plot_bgcolor="white",
                  annotations=annotations, shapes=shapes, **layout_axes)
fig.write_html("out.html", post_script="document.body.style.margin='0px';")
